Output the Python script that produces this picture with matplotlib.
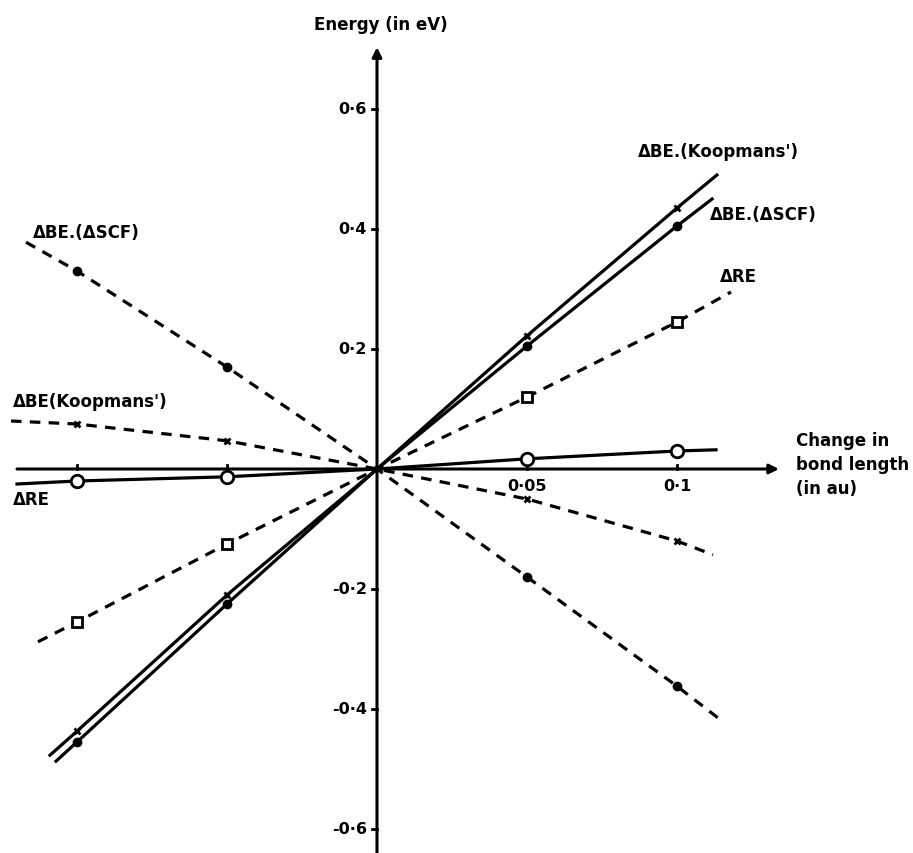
import numpy as np
import matplotlib
matplotlib.use('Agg')
import matplotlib.pyplot as plt

# Values
# change in bond length (au) -> energy shift (eV); first/last entries are where the drawn curve ends
x_be_koop_solid = [-0.109, -0.1, -0.05, 0.0, 0.05, 0.1, 0.1133]
y_be_koop_solid = [-0.477, -0.437, -0.21, 0.0, 0.222, 0.435, 0.49]

x_be_scf_solid = [-0.107, -0.1, -0.05, 0.0, 0.05, 0.1, 0.1117]
y_be_scf_solid = [-0.487, -0.455, -0.225, 0.0, 0.205, 0.405, 0.45]

x_re_solid = [-0.12, -0.1, -0.05, 0.0, 0.05, 0.1, 0.113]
y_re_solid = [-0.025, -0.02, -0.013, 0.0, 0.017, 0.03, 0.032]

x_re_dash = [-0.113, -0.1, -0.05, 0.0, 0.05, 0.1, 0.118]
y_re_dash = [-0.288, -0.255, -0.125, 0.0, 0.12, 0.245, 0.295]

x_be_koop_dash = [-0.122, -0.1, -0.05, 0.0, 0.05, 0.1, 0.112]
y_be_koop_dash = [0.08, 0.075, 0.047, 0.0, -0.05, -0.12, -0.143]

x_be_scf_dash = [-0.117, -0.1, -0.05, 0.0, 0.05, 0.1, 0.115]
y_be_scf_dash = [0.378, 0.33, 0.17, 0.0, -0.18, -0.362, -0.42]

y_ticks = [0.6, 0.4, 0.2, -0.2, -0.4, -0.6]
y_tick_labels = ['0·6', '0·4', '0·2', '-0·2', '-0·4', '-0·6']
x_ticks = [-0.1, -0.05, 0.05, 0.1]
x_tick_labels = {0.05: '0·05', 0.1: '0·1'}

W, H = 913, 854
fig = plt.figure(figsize=(W / 100, H / 100), dpi=100)
ax = fig.add_axes([0, 0, 1, 1])
# origin sits at pixel (377, 470): 3000 px per au, 600 px per eV
ax.set_xlim(-377 / 3000, (W - 377) / 3000)
ax.set_ylim(-(H - 470) / 600, 470 / 600)
ax.axis('off')

font = dict(family='DejaVu Sans', fontweight='bold', color='black')

# axes with arrows
ax.annotate('', xy=(0.134, 0), xytext=(-0.12, 0),
            arrowprops=dict(arrowstyle='-|>', lw=2.2, color='k', mutation_scale=14,
                            shrinkA=0, shrinkB=0), zorder=1)
ax.annotate('', xy=(0, 0.703), xytext=(0, -0.66),
            arrowprops=dict(arrowstyle='-|>', lw=2.2, color='k', mutation_scale=14,
                            shrinkA=0, shrinkB=0), zorder=1)

# tick marks and labels
for yt, lab in zip(y_ticks, y_tick_labels):
    ax.plot([-0.0017, 0], [yt, yt], color='k', lw=2)
    ax.text(-0.0033, yt, lab, ha='right', va='center', fontsize=11.5, **font)
for xt in x_ticks:
    ax.plot([xt, xt], [0, 0.006], color='k', lw=2)
    if xt in x_tick_labels:
        ax.text(xt, -0.028, x_tick_labels[xt], ha='center', va='center', fontsize=11.5, **font)

dash = (3.3, 2.6)
marks = [1, 2, 4, 5]
lw = 2.3

# solid curves
ax.plot(x_be_koop_solid, y_be_koop_solid, color='k', lw=lw, marker='x', ms=5, mew=2,
        markevery=marks, zorder=3)
ax.plot(x_be_scf_solid, y_be_scf_solid, color='k', lw=lw, marker='o', ms=6,
        markevery=marks, zorder=3)
ax.plot(x_re_solid, y_re_solid, color='k', lw=lw, marker='o', ms=9, mfc='white', mew=2,
        markevery=marks, zorder=3)

# dashed curves
ax.plot(x_re_dash, y_re_dash, color='k', lw=lw, dashes=dash, marker='s', ms=7,
        mfc='white', mew=2, markevery=marks, zorder=3)
ax.plot(x_be_koop_dash, y_be_koop_dash, color='k', lw=lw, dashes=dash, marker='x', ms=5,
        mew=2, markevery=marks, zorder=3)
ax.plot(x_be_scf_dash, y_be_scf_dash, color='k', lw=lw, dashes=dash, marker='o', ms=6,
        markevery=marks, zorder=3)


def label(px, py, s, ha='left', **kw):
    fig.text(px / W, 1 - py / H, s, ha=ha, va='center', fontsize=12, **font, **kw)


label(381, 25, 'Energy (in eV)', ha='center')
label(33, 233, 'ΔBE.(ΔSCF)')
label(638, 152, "ΔBE.(Koopmans')")
label(710, 215, 'ΔBE.(ΔSCF)')
label(720, 277, 'ΔRE')
label(13, 402, "ΔBE(Koopmans')")
label(13, 500, 'ΔRE')
label(796, 465, 'Change in\nbond length\n(in au)', linespacing=1.4)

fig.savefig('out.png', dpi=100, facecolor='white')
